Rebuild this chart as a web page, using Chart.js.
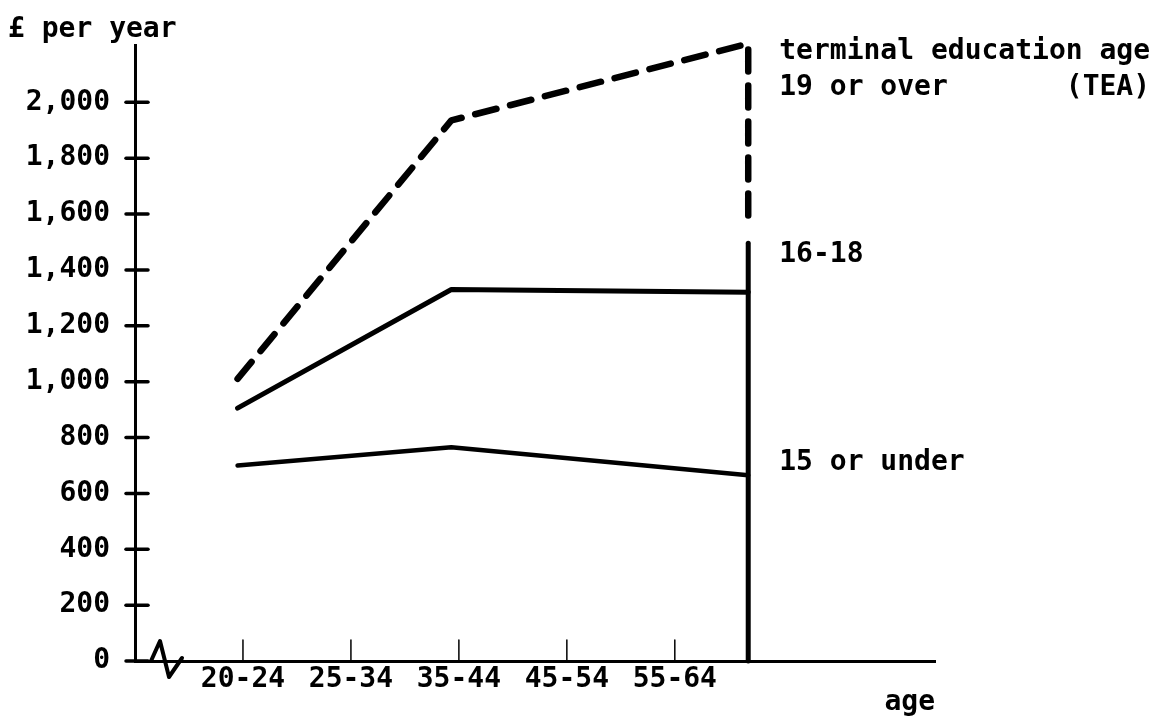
<!DOCTYPE html>
<html>
<head>
<meta charset="utf-8">
<script src="https://cdn.jsdelivr.net/npm/chart.js@4/dist/chart.umd.min.js"></script>
<style>
  html, body { margin: 0; padding: 0; background: #fff; }
  #wrap { width: 1174px; height: 718px; }
</style>
</head>
<body>
<div id="wrap"><canvas id="incomeChart" width="1174" height="718"></canvas></div>
<script>
// age bands on the x axis, and where each plotted point sits along it
const ageGroups = ['20-24', '25-34', '35-44', '45-54', '55-64'];
const pointPos = [-0.05, 1.93, 4.68];   // 20-24, 35-44, right-hand end

// £ per year by terminal education age
const teaOver19 = [1010, 1935, 2210];
const tea16to18 = [905, 1330, 1320];
const tea15under = [700, 765, 665];

// right-hand bracket: solid part and where the dashed part stops
const bracketSolid = [0, 1495];
const bracketDashEnd = 1550;

const yTicks = [0, 200, 400, 600, 800, 1000, 1200, 1400, 1600, 1800, 2000];
const yTickLabels = ['0', '200', '400', '600', '800', '1,000', '1,200', '1,400', '1,600', '1,800', '2,000'];

const FONT = 'bold 28px "DejaVu Sans Mono"';

const toPoints = vals => vals.map((v, i) => ({ x: pointPos[i], y: v }));

const decorations = {
  id: 'decorations',
  afterDraw(chart) {
    const { ctx, chartArea, scales: { x, y } } = chart;
    ctx.save();
    ctx.strokeStyle = '#000';
    ctx.fillStyle = '#000';
    ctx.lineCap = 'round';

    // y tick marks crossing the axis
    ctx.lineWidth = 3.5;
    yTicks.forEach(v => {
      const py = y.getPixelForValue(v);
      ctx.beginPath();
      ctx.moveTo(chartArea.left - 9, py);
      ctx.lineTo(chartArea.left + 13, py);
      ctx.stroke();
    });

    // x tick marks standing up from the axis
    ctx.lineWidth = 1.5;
    ageGroups.forEach((_, i) => {
      const px = x.getPixelForValue(i);
      ctx.beginPath();
      ctx.moveTo(px, chartArea.bottom);
      ctx.lineTo(px, chartArea.bottom - 21);
      ctx.stroke();
    });

    // axis break symbol
    const bx = chartArea.left, by = chartArea.bottom;
    ctx.lineWidth = 4;
    ctx.lineJoin = 'round';
    ctx.beginPath();
    ctx.moveTo(bx + 16, by);
    ctx.lineTo(bx + 25, by - 20);
    ctx.lineTo(bx + 34, by + 16);
    ctx.lineTo(bx + 47, by - 3);
    ctx.stroke();

    // texts
    ctx.font = FONT;
    ctx.textBaseline = 'middle';
    ctx.textAlign = 'left';
    ctx.fillText('£ per year', 8, 30);
    ctx.textAlign = 'right';
    ctx.fillText('age', chartArea.right, 703);

    const lx = x.getPixelForValue(pointPos[2]) + 31;
    ctx.textAlign = 'left';
    const top = 'terminal education age';
    ctx.fillText(top, lx, 52);
    ctx.fillText('19 or over', lx, 88);
    ctx.textAlign = 'right';
    ctx.fillText('(TEA)', lx + ctx.measureText(top).width, 88);
    ctx.textAlign = 'left';
    ctx.fillText('16-18', lx, y.getPixelForValue(tea16to18[2]) - 38);
    ctx.fillText('15 or under', lx, y.getPixelForValue(tea15under[2]) - 13);
    ctx.restore();
  }
};

new Chart(document.getElementById('incomeChart'), {
  type: 'line',
  data: {
    datasets: [
      {
        label: '19 or over',
        data: [...toPoints(teaOver19), { x: pointPos[2], y: bracketDashEnd }],
        borderColor: '#000',
        borderWidth: 6.5,
        borderDash: [22, 14],
        borderCapStyle: 'round'
      },
      {
        label: '16-18',
        data: toPoints(tea16to18),
        borderColor: '#000',
        borderWidth: 5
      },
      {
        label: '15 or under',
        data: toPoints(tea15under),
        borderColor: '#000',
        borderWidth: 4.5
      },
      {
        label: 'bracket',
        data: bracketSolid.map(v => ({ x: pointPos[2], y: v })),
        borderColor: '#000',
        borderWidth: 5
      }
    ]
  },
  options: {
    responsive: false,
    animation: false,
    devicePixelRatio: 1,
    layout: { padding: { top: 45, right: 239, left: 0, bottom: 0 } },
    elements: {
      point: { radius: 0 },
      line: { tension: 0, borderJoinStyle: 'round', borderCapStyle: 'round' }
    },
    datasets: { line: { clip: false } },
    plugins: { legend: { display: false }, tooltip: { enabled: false } },
    scales: {
      x: {
        type: 'linear',
        min: -1.0,
        max: 6.41,
        grid: { display: false, drawTicks: false },
        border: { display: true, color: '#000', width: 3 },
        afterBuildTicks: scale => { scale.ticks = ageGroups.map((_, i) => ({ value: i })); },
        afterFit: scale => { scale.height = 57; },
        ticks: {
          autoSkip: false,
          maxRotation: 0,
          padding: 2,
          color: '#000',
          font: { family: 'DejaVu Sans Mono', size: 28, weight: 'bold' },
          callback: v => ageGroups[v]
        }
      },
      y: {
        min: 0,
        max: 2205,
        grid: { display: false, drawTicks: false },
        border: { display: true, color: '#000', width: 3 },
        afterBuildTicks: scale => { scale.ticks = yTicks.map(v => ({ value: v })); },
        afterFit: scale => { scale.width = 135; },
        ticks: {
          padding: 25,
          color: '#000',
          font: { family: 'DejaVu Sans Mono', size: 28, weight: 'bold' },
          callback: v => yTickLabels[yTicks.indexOf(v)]
        }
      }
    }
  },
  plugins: [decorations]
});
</script>
</body>
</html>
